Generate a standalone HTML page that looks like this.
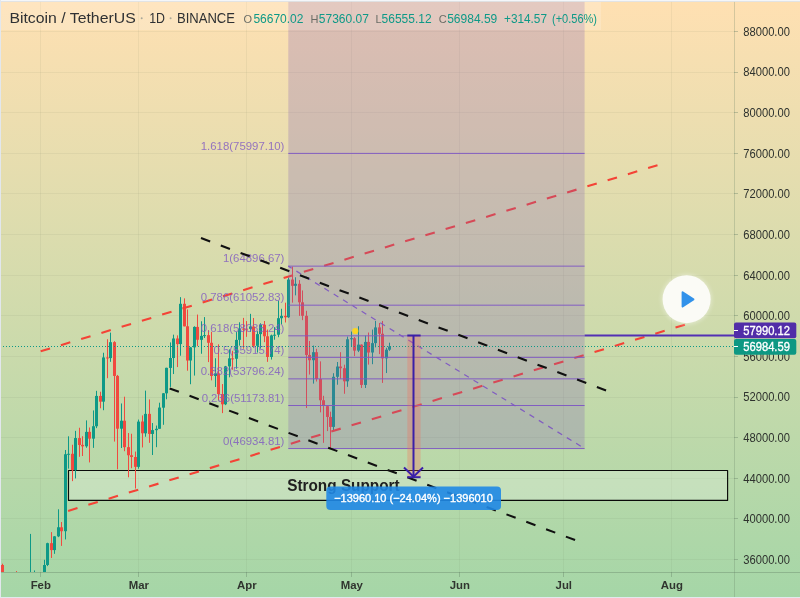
<!DOCTYPE html>
<html><head><meta charset="utf-8"><title>BTCUSDT</title>
<style>
html,body{margin:0;padding:0;}
body{width:800px;height:598px;overflow:hidden;background:linear-gradient(to bottom,#ffe0b2 0%,#a5d6a7 100%);font-family:"Liberation Sans",sans-serif;}
svg{filter:blur(0.35px);display:block;position:absolute;left:0;top:0;font-family:"Liberation Sans",sans-serif;}
</style></head><body>
<svg width="800" height="598" viewBox="0 0 800 598">
<g stroke="#5a6a50" stroke-opacity="0.075" stroke-width="1" shape-rendering="crispEdges">
<line x1="40.5" y1="0" x2="40.5" y2="572"/>
<line x1="138.5" y1="0" x2="138.5" y2="572"/>
<line x1="246.5" y1="0" x2="246.5" y2="572"/>
<line x1="351.5" y1="0" x2="351.5" y2="572"/>
<line x1="459.5" y1="0" x2="459.5" y2="572"/>
<line x1="563.5" y1="0" x2="563.5" y2="572"/>
<line x1="671.5" y1="0" x2="671.5" y2="572"/>
<line x1="0" y1="559.5" x2="734" y2="559.5"/>
<line x1="0" y1="518.5" x2="734" y2="518.5"/>
<line x1="0" y1="478.5" x2="734" y2="478.5"/>
<line x1="0" y1="437.5" x2="734" y2="437.5"/>
<line x1="0" y1="397.5" x2="734" y2="397.5"/>
<line x1="0" y1="356.5" x2="734" y2="356.5"/>
<line x1="0" y1="315.5" x2="734" y2="315.5"/>
<line x1="0" y1="275.5" x2="734" y2="275.5"/>
<line x1="0" y1="234.5" x2="734" y2="234.5"/>
<line x1="0" y1="193.5" x2="734" y2="193.5"/>
<line x1="0" y1="153.5" x2="734" y2="153.5"/>
<line x1="0" y1="112.5" x2="734" y2="112.5"/>
<line x1="0" y1="72.5" x2="734" y2="72.5"/>
<line x1="0" y1="31.5" x2="734" y2="31.5"/>
</g>
<rect x="68.5" y="470.5" width="659.1" height="29.9" fill="#ffffff" fill-opacity="0.22" stroke="#0a0a0a" stroke-width="1.15" stroke-linejoin="round"/>
<text x="287.2" y="491" font-size="15.6px" font-weight="bold" fill="#202020" id="ss" textLength="112.5" lengthAdjust="spacingAndGlyphs">Strong Support</text>
<clipPath id="pane"><rect x="0" y="0" width="734" height="572"/></clipPath>
<g clip-path="url(#pane)">
<rect x="2" y="563.67" width="1" height="56.15" fill="#f1493f"/>
<rect x="1" y="565.01" width="3" height="46.9" fill="#f1493f"/>
<rect x="6" y="581.69" width="1" height="50.54" fill="#0e9987"/>
<rect x="5" y="590.64" width="3" height="21.27" fill="#0e9987"/>
<rect x="9" y="585.45" width="1" height="20.98" fill="#f1493f"/>
<rect x="8" y="590.59" width="3" height="8.86" fill="#f1493f"/>
<rect x="13" y="589.36" width="1" height="22.05" fill="#0e9987"/>
<rect x="12" y="597.61" width="3" height="1.84" fill="#0e9987"/>
<rect x="16" y="571.04" width="1" height="30.11" fill="#f1493f"/>
<rect x="15" y="597.61" width="3" height="1" fill="#f1493f"/>
<rect x="20" y="590.88" width="1" height="21.17" fill="#0e9987"/>
<rect x="19" y="595.49" width="3" height="2.16" fill="#0e9987"/>
<rect x="23" y="594.58" width="1" height="33.68" fill="#f1493f"/>
<rect x="22" y="595.51" width="3" height="21.32" fill="#f1493f"/>
<rect x="27" y="582.13" width="1" height="40.02" fill="#0e9987"/>
<rect x="26" y="586.38" width="3" height="30.49" fill="#0e9987"/>
<rect x="30" y="533.91" width="1" height="67.19" fill="#0e9987"/>
<rect x="29" y="577.36" width="3" height="8.98" fill="#0e9987"/>
<rect x="34" y="570.45" width="1" height="21.41" fill="#0e9987"/>
<rect x="33" y="577.26" width="3" height="1" fill="#0e9987"/>
<rect x="37" y="576.45" width="1" height="22.05" fill="#f1493f"/>
<rect x="36" y="577.26" width="3" height="11.88" fill="#f1493f"/>
<rect x="41" y="572.64" width="1" height="24.59" fill="#0e9987"/>
<rect x="40" y="584.74" width="3" height="4.44" fill="#0e9987"/>
<rect x="44" y="559.77" width="1" height="26.06" fill="#0e9987"/>
<rect x="43" y="565.04" width="3" height="19.79" fill="#0e9987"/>
<rect x="47" y="542.73" width="1" height="23.36" fill="#0e9987"/>
<rect x="46" y="543.18" width="3" height="21.79" fill="#0e9987"/>
<rect x="51" y="532.11" width="1" height="25.87" fill="#f1493f"/>
<rect x="50" y="543.16" width="3" height="6.95" fill="#f1493f"/>
<rect x="54" y="536.15" width="1" height="17.67" fill="#0e9987"/>
<rect x="53" y="536.35" width="3" height="13.75" fill="#0e9987"/>
<rect x="58" y="509.29" width="1" height="27.83" fill="#0e9987"/>
<rect x="57" y="527.25" width="3" height="9.11" fill="#0e9987"/>
<rect x="61" y="522.03" width="1" height="23.86" fill="#f1493f"/>
<rect x="60" y="527.31" width="3" height="3.92" fill="#f1493f"/>
<rect x="65" y="449.99" width="1" height="89.43" fill="#0e9987"/>
<rect x="64" y="454.25" width="3" height="76.97" fill="#0e9987"/>
<rect x="68" y="436.3" width="1" height="32.31" fill="#0e9987"/>
<rect x="67" y="453.79" width="3" height="1" fill="#0e9987"/>
<rect x="72" y="444.75" width="1" height="36.39" fill="#f1493f"/>
<rect x="71" y="453.79" width="3" height="16.38" fill="#f1493f"/>
<rect x="75" y="430.85" width="1" height="47.57" fill="#0e9987"/>
<rect x="74" y="438.05" width="3" height="32.11" fill="#0e9987"/>
<rect x="79" y="427.74" width="1" height="29.05" fill="#f1493f"/>
<rect x="78" y="438.06" width="3" height="6.92" fill="#f1493f"/>
<rect x="82" y="436.22" width="1" height="19.78" fill="#f1493f"/>
<rect x="81" y="444.87" width="3" height="1.47" fill="#f1493f"/>
<rect x="86" y="420.4" width="1" height="27.35" fill="#0e9987"/>
<rect x="85" y="431.88" width="3" height="14.43" fill="#0e9987"/>
<rect x="89" y="427.48" width="1" height="34.94" fill="#f1493f"/>
<rect x="88" y="431.85" width="3" height="6.79" fill="#f1493f"/>
<rect x="93" y="410.43" width="1" height="37.44" fill="#0e9987"/>
<rect x="92" y="426.23" width="3" height="12.41" fill="#0e9987"/>
<rect x="96" y="390.84" width="1" height="37.28" fill="#0e9987"/>
<rect x="95" y="395.91" width="3" height="30.33" fill="#0e9987"/>
<rect x="100" y="391.73" width="1" height="16.54" fill="#f1493f"/>
<rect x="99" y="395.93" width="3" height="5.74" fill="#f1493f"/>
<rect x="103" y="352.75" width="1" height="57.46" fill="#0e9987"/>
<rect x="102" y="357.45" width="3" height="44.22" fill="#0e9987"/>
<rect x="107" y="339.23" width="1" height="38.97" fill="#f1493f"/>
<rect x="106" y="357.45" width="3" height="1" fill="#f1493f"/>
<rect x="110" y="332.61" width="1" height="29.2" fill="#0e9987"/>
<rect x="109" y="342.19" width="3" height="15.91" fill="#0e9987"/>
<rect x="114" y="341.18" width="1" height="100.4" fill="#f1493f"/>
<rect x="113" y="342.15" width="3" height="33.77" fill="#f1493f"/>
<rect x="117" y="374.95" width="1" height="94.36" fill="#f1493f"/>
<rect x="116" y="375.92" width="3" height="52.77" fill="#f1493f"/>
<rect x="121" y="403.47" width="1" height="44.54" fill="#0e9987"/>
<rect x="120" y="420.72" width="3" height="7.97" fill="#0e9987"/>
<rect x="124" y="396.7" width="1" height="54.51" fill="#f1493f"/>
<rect x="123" y="420.72" width="3" height="26.44" fill="#f1493f"/>
<rect x="128" y="433.03" width="1" height="44.26" fill="#f1493f"/>
<rect x="127" y="447.15" width="3" height="8.09" fill="#f1493f"/>
<rect x="131" y="433.74" width="1" height="34.47" fill="#f1493f"/>
<rect x="130" y="455.25" width="3" height="1.73" fill="#f1493f"/>
<rect x="135" y="451.57" width="1" height="36.95" fill="#f1493f"/>
<rect x="134" y="457.01" width="3" height="9.83" fill="#f1493f"/>
<rect x="138" y="419.56" width="1" height="49.16" fill="#0e9987"/>
<rect x="137" y="421.62" width="3" height="45.22" fill="#0e9987"/>
<rect x="142" y="415.4" width="1" height="32.02" fill="#f1493f"/>
<rect x="141" y="421.54" width="3" height="11.73" fill="#f1493f"/>
<rect x="145" y="390.62" width="1" height="46.11" fill="#0e9987"/>
<rect x="144" y="413.88" width="3" height="19.43" fill="#0e9987"/>
<rect x="149" y="399.42" width="1" height="43.4" fill="#f1493f"/>
<rect x="148" y="413.88" width="3" height="20.06" fill="#f1493f"/>
<rect x="152" y="423.03" width="1" height="31.97" fill="#0e9987"/>
<rect x="151" y="430.11" width="3" height="3.83" fill="#0e9987"/>
<rect x="156" y="425.55" width="1" height="21.63" fill="#0e9987"/>
<rect x="155" y="428.78" width="3" height="1.38" fill="#0e9987"/>
<rect x="159" y="402.7" width="1" height="26.08" fill="#0e9987"/>
<rect x="158" y="407.57" width="3" height="21.22" fill="#0e9987"/>
<rect x="163" y="393.03" width="1" height="31.77" fill="#0e9987"/>
<rect x="162" y="393.31" width="3" height="14.38" fill="#0e9987"/>
<rect x="166" y="367.71" width="1" height="31.54" fill="#0e9987"/>
<rect x="165" y="367.83" width="3" height="25.48" fill="#0e9987"/>
<rect x="170" y="342.41" width="1" height="44.5" fill="#0e9987"/>
<rect x="169" y="358.01" width="3" height="9.92" fill="#0e9987"/>
<rect x="173" y="334.66" width="1" height="39.38" fill="#0e9987"/>
<rect x="172" y="338.49" width="3" height="19.52" fill="#0e9987"/>
<rect x="177" y="335.36" width="1" height="31.68" fill="#f1493f"/>
<rect x="176" y="338.49" width="3" height="5.61" fill="#f1493f"/>
<rect x="180" y="297.14" width="1" height="58.56" fill="#0e9987"/>
<rect x="179" y="303.8" width="3" height="40.29" fill="#0e9987"/>
<rect x="184" y="298.36" width="1" height="28.01" fill="#f1493f"/>
<rect x="183" y="303.8" width="3" height="22.55" fill="#f1493f"/>
<rect x="187" y="309.44" width="1" height="61.27" fill="#f1493f"/>
<rect x="186" y="326.27" width="3" height="34.24" fill="#f1493f"/>
<rect x="190" y="346.97" width="1" height="37.24" fill="#0e9987"/>
<rect x="189" y="347.35" width="3" height="13.15" fill="#0e9987"/>
<rect x="194" y="326.29" width="1" height="49.27" fill="#0e9987"/>
<rect x="193" y="326.92" width="3" height="20.43" fill="#0e9987"/>
<rect x="197" y="314.56" width="1" height="31.54" fill="#f1493f"/>
<rect x="196" y="326.92" width="3" height="12.84" fill="#f1493f"/>
<rect x="201" y="321.27" width="1" height="32.48" fill="#0e9987"/>
<rect x="200" y="335.88" width="3" height="3.95" fill="#0e9987"/>
<rect x="204" y="317.09" width="1" height="20.92" fill="#0e9987"/>
<rect x="203" y="335.14" width="3" height="1" fill="#0e9987"/>
<rect x="208" y="330.2" width="1" height="31.88" fill="#f1493f"/>
<rect x="207" y="335.16" width="3" height="7.61" fill="#f1493f"/>
<rect x="211" y="331.81" width="1" height="48.55" fill="#f1493f"/>
<rect x="210" y="342.77" width="3" height="33.19" fill="#f1493f"/>
<rect x="215" y="358.22" width="1" height="28.74" fill="#0e9987"/>
<rect x="214" y="373.35" width="3" height="2.61" fill="#0e9987"/>
<rect x="218" y="344.3" width="1" height="55.86" fill="#f1493f"/>
<rect x="217" y="373.33" width="3" height="20.71" fill="#f1493f"/>
<rect x="222" y="384.05" width="1" height="29.05" fill="#f1493f"/>
<rect x="221" y="394.04" width="3" height="10.26" fill="#f1493f"/>
<rect x="225" y="365.91" width="1" height="39.19" fill="#0e9987"/>
<rect x="224" y="366.39" width="3" height="37.9" fill="#0e9987"/>
<rect x="229" y="349.38" width="1" height="27.93" fill="#0e9987"/>
<rect x="228" y="358.35" width="3" height="8.04" fill="#0e9987"/>
<rect x="232" y="350.81" width="1" height="18.97" fill="#f1493f"/>
<rect x="231" y="358.35" width="3" height="1" fill="#f1493f"/>
<rect x="236" y="332.07" width="1" height="36.61" fill="#0e9987"/>
<rect x="235" y="339.89" width="3" height="18.87" fill="#0e9987"/>
<rect x="239" y="322.29" width="1" height="23.33" fill="#0e9987"/>
<rect x="238" y="328.6" width="3" height="11.28" fill="#0e9987"/>
<rect x="243" y="317.9" width="1" height="30.78" fill="#f1493f"/>
<rect x="242" y="328.6" width="3" height="1" fill="#f1493f"/>
<rect x="246" y="321.05" width="1" height="15.79" fill="#f1493f"/>
<rect x="245" y="328.67" width="3" height="1" fill="#f1493f"/>
<rect x="250" y="313.84" width="1" height="18" fill="#0e9987"/>
<rect x="249" y="326.53" width="3" height="2.34" fill="#0e9987"/>
<rect x="253" y="317.99" width="1" height="29.56" fill="#f1493f"/>
<rect x="252" y="326.53" width="3" height="19.29" fill="#f1493f"/>
<rect x="257" y="331.18" width="1" height="21.37" fill="#0e9987"/>
<rect x="256" y="334.13" width="3" height="11.69" fill="#0e9987"/>
<rect x="260" y="323.26" width="1" height="25.34" fill="#0e9987"/>
<rect x="259" y="324.71" width="3" height="9.41" fill="#0e9987"/>
<rect x="264" y="321" width="1" height="21.14" fill="#f1493f"/>
<rect x="263" y="324.71" width="3" height="11.56" fill="#f1493f"/>
<rect x="267" y="329.53" width="1" height="32.32" fill="#f1493f"/>
<rect x="266" y="336.28" width="3" height="20.69" fill="#f1493f"/>
<rect x="271" y="334.63" width="1" height="24.91" fill="#0e9987"/>
<rect x="270" y="335.4" width="3" height="21.57" fill="#0e9987"/>
<rect x="274" y="327.1" width="1" height="12.59" fill="#0e9987"/>
<rect x="273" y="334.74" width="3" height="1" fill="#0e9987"/>
<rect x="278" y="300.63" width="1" height="36.56" fill="#0e9987"/>
<rect x="277" y="318.21" width="3" height="16.52" fill="#0e9987"/>
<rect x="281" y="308.77" width="1" height="15.46" fill="#0e9987"/>
<rect x="280" y="315.85" width="3" height="2.37" fill="#0e9987"/>
<rect x="285" y="302.67" width="1" height="19.8" fill="#f1493f"/>
<rect x="284" y="315.85" width="3" height="1.44" fill="#f1493f"/>
<rect x="288" y="277.51" width="1" height="40.34" fill="#0e9987"/>
<rect x="287" y="279.56" width="3" height="37.73" fill="#0e9987"/>
<rect x="292" y="266.57" width="1" height="36.08" fill="#f1493f"/>
<rect x="291" y="279.56" width="3" height="6.26" fill="#f1493f"/>
<rect x="295" y="277.28" width="1" height="18.08" fill="#0e9987"/>
<rect x="294" y="283.79" width="3" height="2.03" fill="#0e9987"/>
<rect x="299" y="280.12" width="1" height="35.75" fill="#f1493f"/>
<rect x="298" y="283.8" width="3" height="18.52" fill="#f1493f"/>
<rect x="302" y="290.42" width="1" height="29.72" fill="#f1493f"/>
<rect x="301" y="302.32" width="3" height="13.49" fill="#f1493f"/>
<rect x="306" y="310.8" width="1" height="97.17" fill="#f1493f"/>
<rect x="305" y="315.81" width="3" height="39.16" fill="#f1493f"/>
<rect x="309" y="340.99" width="1" height="33.57" fill="#f1493f"/>
<rect x="308" y="354.97" width="3" height="5.25" fill="#f1493f"/>
<rect x="313" y="345.56" width="1" height="38.05" fill="#0e9987"/>
<rect x="312" y="352.18" width="3" height="8.04" fill="#0e9987"/>
<rect x="316" y="348.8" width="1" height="32.71" fill="#f1493f"/>
<rect x="315" y="352.18" width="3" height="26.79" fill="#f1493f"/>
<rect x="320" y="361.36" width="1" height="50.99" fill="#f1493f"/>
<rect x="319" y="378.99" width="3" height="21.28" fill="#f1493f"/>
<rect x="323" y="395.8" width="1" height="47.02" fill="#f1493f"/>
<rect x="322" y="400.26" width="3" height="5.74" fill="#f1493f"/>
<rect x="327" y="405.59" width="1" height="25.48" fill="#f1493f"/>
<rect x="326" y="406.15" width="3" height="10.8" fill="#f1493f"/>
<rect x="330" y="411.67" width="1" height="36.94" fill="#f1493f"/>
<rect x="329" y="416.95" width="3" height="9.96" fill="#f1493f"/>
<rect x="333" y="373.19" width="1" height="56.9" fill="#0e9987"/>
<rect x="332" y="376.79" width="3" height="50.12" fill="#0e9987"/>
<rect x="337" y="361.98" width="1" height="22.73" fill="#0e9987"/>
<rect x="336" y="366.54" width="3" height="10.26" fill="#0e9987"/>
<rect x="340" y="352.15" width="1" height="26.56" fill="#f1493f"/>
<rect x="339" y="366.54" width="3" height="1.68" fill="#f1493f"/>
<rect x="344" y="364.67" width="1" height="29.1" fill="#f1493f"/>
<rect x="343" y="368.21" width="3" height="13.11" fill="#f1493f"/>
<rect x="347" y="336.56" width="1" height="50.27" fill="#0e9987"/>
<rect x="346" y="339.29" width="3" height="42.04" fill="#0e9987"/>
<rect x="351" y="331.53" width="1" height="15.25" fill="#0e9987"/>
<rect x="350" y="338.21" width="3" height="1.05" fill="#0e9987"/>
<rect x="354" y="337.08" width="1" height="19.05" fill="#f1493f"/>
<rect x="353" y="338.24" width="3" height="12.38" fill="#f1493f"/>
<rect x="358" y="326.22" width="1" height="25.86" fill="#0e9987"/>
<rect x="357" y="344.62" width="3" height="6" fill="#0e9987"/>
<rect x="361" y="344.3" width="1" height="43.67" fill="#f1493f"/>
<rect x="360" y="344.62" width="3" height="40.31" fill="#f1493f"/>
<rect x="365" y="335.48" width="1" height="52.5" fill="#0e9987"/>
<rect x="364" y="341.91" width="3" height="43.02" fill="#0e9987"/>
<rect x="368" y="332.52" width="1" height="32.09" fill="#f1493f"/>
<rect x="367" y="341.91" width="3" height="10.59" fill="#f1493f"/>
<rect x="372" y="329.58" width="1" height="34.62" fill="#0e9987"/>
<rect x="371" y="343.15" width="3" height="9.35" fill="#0e9987"/>
<rect x="375" y="320.95" width="1" height="26.41" fill="#0e9987"/>
<rect x="374" y="327.43" width="3" height="15.71" fill="#0e9987"/>
<rect x="379" y="322.98" width="1" height="31.13" fill="#f1493f"/>
<rect x="378" y="327.38" width="3" height="6.36" fill="#f1493f"/>
<rect x="382" y="320.95" width="1" height="61.95" fill="#f1493f"/>
<rect x="381" y="333.74" width="3" height="24.62" fill="#f1493f"/>
<rect x="386" y="347.74" width="1" height="25.31" fill="#0e9987"/>
<rect x="385" y="349.69" width="3" height="8.67" fill="#0e9987"/>
<rect x="389" y="342.68" width="1" height="8.18" fill="#0e9987"/>
<rect x="388" y="346.5" width="3" height="3.19" fill="#0e9987"/>
</g>
<g stroke-width="2.1" stroke-dasharray="9.8 11.35" fill="none" stroke="#f44336">
<line x1="40.65" y1="351.25" x2="658" y2="165.05"/>
<line x1="68.1" y1="510.9" x2="686" y2="324.4"/>
</g>
<rect x="288.3" y="0" width="296.3" height="448.56" fill="#7e5cb4" fill-opacity="0.26"/>
<g stroke="#7e57c2" stroke-width="1" stroke-opacity="0.95">
<line x1="288.3" y1="153.4" x2="584.6" y2="153.4"/>
<line x1="288.3" y1="266.14" x2="584.6" y2="266.14"/>
<line x1="288.3" y1="305.18" x2="584.6" y2="305.18"/>
<line x1="288.3" y1="335.82" x2="584.6" y2="335.82"/>
<line x1="288.3" y1="357.35" x2="584.6" y2="357.35"/>
<line x1="288.3" y1="378.87" x2="584.6" y2="378.87"/>
<line x1="288.3" y1="405.51" x2="584.6" y2="405.51"/>
<line x1="288.3" y1="448.56" x2="584.6" y2="448.56"/>
</g>
<g font-size="11.4px" fill="#7e57c2" fill-opacity="0.8" text-anchor="end">
<text x="284.4" y="149.6">1.618(75997.10)</text>
<text x="284.4" y="262.34">1(64896.67)</text>
<text x="284.4" y="301.38">0.786(61052.83)</text>
<text x="284.4" y="332.02">0.618(58035.24)</text>
<text x="284.4" y="353.55">0.5(55915.74)</text>
<text x="284.4" y="375.07">0.382(53796.24)</text>
<text x="284.4" y="401.71">0.236(51173.81)</text>
<text x="284.4" y="444.76">0(46934.81)</text>
</g>
<line x1="288.3" y1="266.14" x2="584.6" y2="448.56" stroke="#7e57c2" stroke-width="1.25" stroke-dasharray="5.475 5.475" stroke-dashoffset="1.45" stroke-opacity="0.95"/>
<g stroke-width="2.1" stroke-dasharray="9.8 11.35" fill="none" stroke="#101010">
<line x1="201" y1="238" x2="606.2" y2="390.5"/>
<line x1="169.7" y1="388.4" x2="575.2" y2="540.1"/>
</g>
<line x1="0" y1="346.5" x2="734" y2="346.5" stroke="#0e9987" stroke-width="1" stroke-dasharray="1 2"/>
<line x1="584.6" y1="335.4" x2="734" y2="335.4" stroke="#5330b4" stroke-width="2"/>
<rect x="407.3" y="335.5" width="13.3" height="141.7" fill="#ff644f" fill-opacity="0.28"/>
<g stroke="#3a1fa8" stroke-width="2" fill="none">
<line x1="407.3" y1="335.5" x2="420.6" y2="335.5"/>
<line x1="407.3" y1="477.2" x2="420.6" y2="477.2"/>
<line x1="413.5" y1="335.5" x2="413.5" y2="477.2"/>
<polyline points="404,467.5 413.5,476.7 423,467.5"/>
</g>
<circle cx="355.3" cy="331" r="3.1" fill="#fbd621"/>
<rect x="326.3" y="486.5" width="174.7" height="23.5" rx="4" fill="#1f88e5" fill-opacity="0.9"/>
<text x="413.5" y="502.3" font-size="11px" fill="#ffffff" stroke="#ffffff" stroke-width="0.35" text-anchor="middle" id="bl">−13960.10 (−24.04%) −1396010</text>
<g stroke="#5f7a62" stroke-opacity="0.36" stroke-width="1" shape-rendering="crispEdges">
<line x1="734.5" y1="0" x2="734.5" y2="598" stroke-opacity="0.26"/>
<line x1="0" y1="572.5" x2="800" y2="572.5"/>
<line x1="734" y1="559.5" x2="738" y2="559.5"/>
<line x1="734" y1="518.5" x2="738" y2="518.5"/>
<line x1="734" y1="478.5" x2="738" y2="478.5"/>
<line x1="734" y1="437.5" x2="738" y2="437.5"/>
<line x1="734" y1="397.5" x2="738" y2="397.5"/>
<line x1="734" y1="356.5" x2="738" y2="356.5"/>
<line x1="734" y1="315.5" x2="738" y2="315.5"/>
<line x1="734" y1="275.5" x2="738" y2="275.5"/>
<line x1="734" y1="234.5" x2="738" y2="234.5"/>
<line x1="734" y1="193.5" x2="738" y2="193.5"/>
<line x1="734" y1="153.5" x2="738" y2="153.5"/>
<line x1="734" y1="112.5" x2="738" y2="112.5"/>
<line x1="734" y1="72.5" x2="738" y2="72.5"/>
<line x1="734" y1="31.5" x2="738" y2="31.5"/>
<line x1="40.5" y1="572" x2="40.5" y2="577"/>
<line x1="138.5" y1="572" x2="138.5" y2="577"/>
<line x1="246.5" y1="572" x2="246.5" y2="577"/>
<line x1="351.5" y1="572" x2="351.5" y2="577"/>
<line x1="459.5" y1="572" x2="459.5" y2="577"/>
<line x1="563.5" y1="572" x2="563.5" y2="577"/>
<line x1="671.5" y1="572" x2="671.5" y2="577"/>
</g>
<g font-size="12.2px" fill="#2e322e">
<text x="743.3" y="563.91" textLength="46.6" lengthAdjust="spacingAndGlyphs">36000.00</text>
<text x="743.3" y="523.29" textLength="46.6" lengthAdjust="spacingAndGlyphs">40000.00</text>
<text x="743.3" y="482.66" textLength="46.6" lengthAdjust="spacingAndGlyphs">44000.00</text>
<text x="743.3" y="442.04" textLength="46.6" lengthAdjust="spacingAndGlyphs">48000.00</text>
<text x="743.3" y="401.42" textLength="46.6" lengthAdjust="spacingAndGlyphs">52000.00</text>
<text x="743.3" y="360.79" textLength="46.6" lengthAdjust="spacingAndGlyphs">56000.00</text>
<text x="743.3" y="320.17" textLength="46.6" lengthAdjust="spacingAndGlyphs">60000.00</text>
<text x="743.3" y="279.54" textLength="46.6" lengthAdjust="spacingAndGlyphs">64000.00</text>
<text x="743.3" y="238.92" textLength="46.6" lengthAdjust="spacingAndGlyphs">68000.00</text>
<text x="743.3" y="198.3" textLength="46.6" lengthAdjust="spacingAndGlyphs">72000.00</text>
<text x="743.3" y="157.67" textLength="46.6" lengthAdjust="spacingAndGlyphs">76000.00</text>
<text x="743.3" y="117.05" textLength="46.6" lengthAdjust="spacingAndGlyphs">80000.00</text>
<text x="743.3" y="76.42" textLength="46.6" lengthAdjust="spacingAndGlyphs">84000.00</text>
<text x="743.3" y="35.8" textLength="46.6" lengthAdjust="spacingAndGlyphs">88000.00</text>
</g>
<g font-size="11.4px" fill="#30352f" text-anchor="middle" font-weight="bold">
<text x="40.8" y="589.1">Feb</text>
<text x="138.8" y="589.1">Mar</text>
<text x="246.8" y="589.1">Apr</text>
<text x="351.8" y="589.1">May</text>
<text x="459.8" y="589.1">Jun</text>
<text x="563.8" y="589.1">Jul</text>
<text x="671.8" y="589.1">Aug</text>
</g>
<rect x="734" y="322.5" width="62.3" height="15.8" rx="2" fill="#512da8"/>
<rect x="734" y="339" width="62.3" height="15.8" rx="2" fill="#0d9883"/>
<line x1="734" y1="330.5" x2="738" y2="330.5" stroke="#fff" stroke-width="1"/>
<line x1="734" y1="346.5" x2="738" y2="346.5" stroke="#fff" stroke-width="1"/>
<g font-size="12.2px" fill="#ffffff" stroke="#ffffff" stroke-width="0.35">
<text x="743.3" y="334.9" textLength="46.6" lengthAdjust="spacingAndGlyphs">57990.12</text>
<text x="743.3" y="351.2" textLength="46.6" lengthAdjust="spacingAndGlyphs">56984.59</text>
</g>
<rect x="0" y="2" width="601" height="28" fill="#ffffff" fill-opacity="0.18"/>
<g font-size="14.8px" fill="#2f3134" id="ttl">
<text x="9.4" y="23" textLength="126.3" lengthAdjust="spacingAndGlyphs">Bitcoin / TetherUS</text>
<text x="149.2" y="23" textLength="15.8" lengthAdjust="spacingAndGlyphs">1D</text>
<text x="177" y="23" textLength="58" lengthAdjust="spacingAndGlyphs">BINANCE</text>
<circle cx="141.7" cy="18.3" r="1" fill="#a9a79a"/><circle cx="170.6" cy="18.3" r="1" fill="#a9a79a"/>
</g>
<g font-size="12px" fill="#0e9987" id="ohlc">
<text x="243.6" y="22.6" fill="#6a6c66" font-size="11px">O</text>
<text x="253.4" y="22.6">56670.02</text>
<text x="310.5" y="22.6" fill="#6a6c66" font-size="11px">H</text>
<text x="318.8" y="22.6">57360.07</text>
<text x="375.4" y="22.6" fill="#6a6c66" font-size="11px">L</text>
<text x="381.6" y="22.6">56555.12</text>
<text x="438.8" y="22.6" fill="#6a6c66" font-size="11px">C</text>
<text x="447.2" y="22.6">56984.59</text>
<text x="504" y="22.6" textLength="43.0" lengthAdjust="spacingAndGlyphs">+314.57</text>
<text x="552" y="22.6" textLength="45.0" lengthAdjust="spacingAndGlyphs">(+0.56%)</text>
</g>
<defs><filter id="sh" x="-30%" y="-30%" width="160%" height="160%"><feGaussianBlur stdDeviation="2.2"/></filter></defs>
<circle cx="686.6" cy="299.5" r="25" fill="#ffffff" fill-opacity="0.4" filter="url(#sh)"/>
<circle cx="686.6" cy="299.2" r="24" fill="#fbfbf6"/>
<path d="M682.6 292.3 L693.4 299.4 L682.6 306.5 Z" fill="#3292ea" stroke="#3292ea" stroke-width="2" stroke-linejoin="round"/>
<rect x="0" y="0" width="800" height="1" fill="#f4f6f9"/>
<rect x="0" y="1" width="800" height="1" fill="#dfe3e8" fill-opacity="0.9"/>
<rect x="0" y="0" width="1" height="598" fill="#e2e7ed"/>
<rect x="0" y="597" width="800" height="1" fill="#e2e7ed"/>
</svg>
</body></html>
